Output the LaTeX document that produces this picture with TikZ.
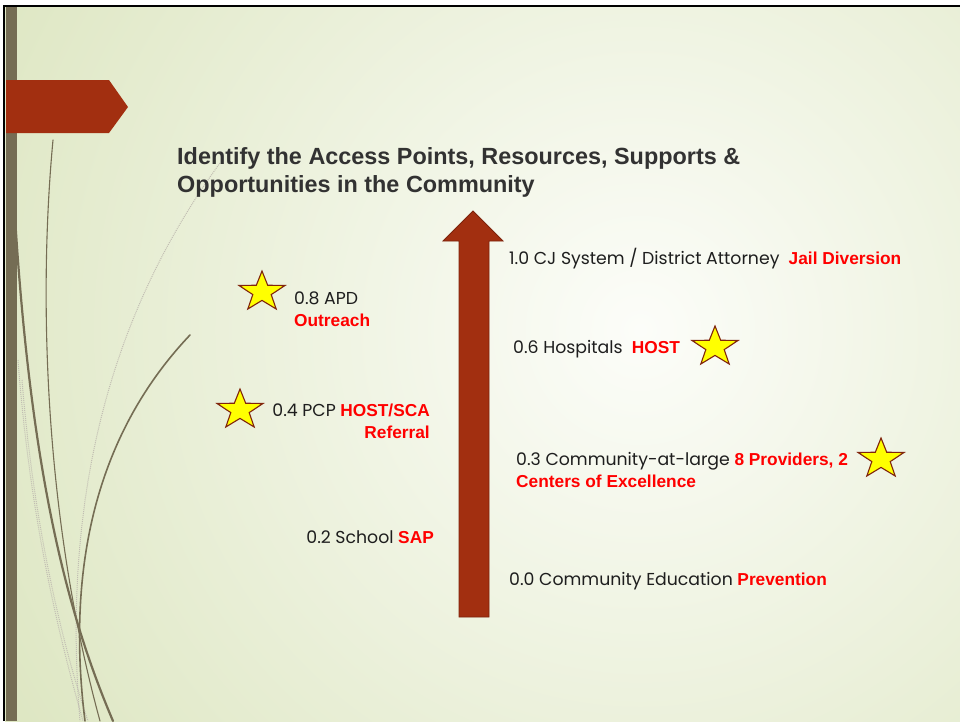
\documentclass[tikz,border=0pt]{standalone}
\usepackage{fontspec}
\setmainfont{Poppins}
\newfontfamily\arialfont{Liberation Sans}
\usetikzlibrary{shapes.geometric}
\usetikzlibrary{positioning}

\definecolor{slidegreen}{RGB}{217,227,186}
\definecolor{slidewhite}{RGB}{252,253,249}
\definecolor{rust}{RGB}{162,47,16}
\definecolor{rustdark}{RGB}{125,35,12}
\definecolor{olive}{RGB}{117,109,84}
\definecolor{titlegray}{RGB}{50,50,50}
\definecolor{textgray}{RGB}{30,30,30}
\definecolor{hlred}{RGB}{255,0,0}
\definecolor{starbrown}{RGB}{128,36,12}
\definecolor{staryellow}{RGB}{255,255,0}

\newcommand{\hl}[1]{{\arialfont\bfseries\fontsize{17.3}{22}\selectfont\color{hlred}#1}}

\begin{document}
\begin{tikzpicture}[x=1pt,y=-1pt,node distance=12pt]
 \tikzstyle{lbl}=[inner sep=0pt, text=textgray, font=\fontsize{17.3}{22}\selectfont]
 \tikzstyle{starmark}=[star, star points=5, star point ratio=2.5, draw=starbrown, fill=staryellow, line width=1.1pt, minimum size=42pt, inner sep=0pt, xscale=1.15]
 \tikzstyle{deco}=[draw=olive, line cap=round]
 \tikzstyle{faint}=[draw=olive!45, densely dotted, line width=1pt]

 \useasboundingbox (0,0) rectangle (960,721);
 % slide background
 \fill[white] (0,0) rectangle (960,721);
 \begin{scope}
  \clip (5,7) rectangle (960,721);
  \shade[inner color=slidewhite, outer color=slidegreen] (640,330) circle (850);
 \end{scope}
 \draw[black, line width=2.5pt] (4,721) -- (4,6) -- (960,6);

 % left curves
 \draw[faint] (220,163) .. controls (120,300) and (60,480) .. (80,721);
 \draw[faint] (18,360) .. controls (30,520) and (60,640) .. (83,721);
 \draw[faint] (22,380) .. controls (34,530) and (64,650) .. (88,721);
 \draw[deco, line width=1.1pt] (53,140) .. controls (38,300) and (45,520) .. (100,721);
 \draw[deco, line width=1.6pt] (190,335) .. controls (100,430) and (65,560) .. (85,721);
 \draw[deco, line width=2.2pt] (14,200) .. controls (30,480) and (70,620) .. (113,721);

 % side strip and tab
 \fill[olive] (6,7) rectangle (17,721);
 \fill[rust] (6,80) -- (109,80) -- (128,107) -- (109,133) -- (6,133) -- cycle;

 % title
 \node[anchor=north west, inner sep=0pt, align=left, text=titlegray,
  font=\arialfont\bfseries\fontsize{23.4}{28}\selectfont] (title) at (177,147)
  {Identify the Access Points, Resources, Supports \&\\Opportunities in the Community};

 % big arrow
 \coordinate (atip) at (473,211);
 \filldraw[fill=rust, draw=rustdark, line width=0.8pt]
  (459,617) -- (459,241) -- (443,241) -- (atip) -- (503,241) -- (489,241) -- (489,617) -- cycle;

 % right side labels
 \node[lbl, anchor=west] (cj) at (509,259) {1.0 CJ System / District Attorney\ \ \hl{Jail Diversion}};
 \node[lbl, anchor=west] (hosp) at (513,349) {0.6 Hospitals\ \ \hl{HOST}};
 \node[starmark] (starhosp) at (715,347) {};
 \node[lbl, anchor=west, align=left] (comm) at (516,470) {0.3 Community-at-large \hl{8 Providers, 2}\\\hl{Centers of Excellence}};
 \node[starmark] (starcomm) at (881,459) {};
 \node[lbl, anchor=west] (edu) at (509,581) {0.0 Community Education \hl{Prevention}};

 % left side labels
 \node[lbl, anchor=west, align=left] (apd) at (294,309) {0.8 APD\\\hl{Outreach}};
 \node[starmark] (starapd) at (262,292) {};
 \node[lbl, anchor=east, align=right] (pcp) at (430,421) {0.4 PCP \hl{HOST/SCA}\\\hl{Referral}};
 \node[starmark] (starpcp) at (240,410) {};
 \node[lbl, anchor=east] (school) at (434,537) {0.2 School \hl{SAP}};
\end{tikzpicture}
\end{document}
